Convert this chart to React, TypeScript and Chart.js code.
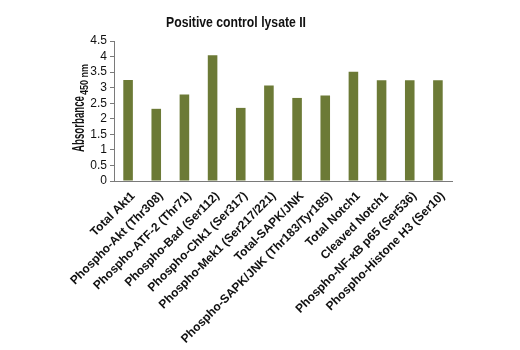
import React, { useEffect, useRef } from 'react';
import { Chart, registerables } from 'chart.js';

Chart.register(...registerables);

const chartTitle = 'Positive control lysate II';
const yTitleMain = 'Absorbance';
const yTitleSub = '450 nm';

const categories = [
  'Total Akt1',
  'Phospho-Akt (Thr308)',
  'Phospho-ATF-2 (Thr71)',
  'Phospho-Bad (Ser112)',
  'Phospho-Chk1 (Ser317)',
  'Phospho-Mek1 (Ser217/221)',
  'Total-SAPK/JNK',
  'Phospho-SAPK/JNK (Thr183/Tyr185)',
  'Total Notch1',
  'Cleaved Notch1',
  'Phospho-NF-κB p65 (Ser536)',
  'Phospho-Histone H3 (Ser10)',
];

const absorbance = [3.25, 2.32, 2.78, 4.04, 2.35, 3.07, 2.67, 2.75, 3.51, 3.24, 3.24, 3.24];

const yMin = 0;
const yMax = 4.5;
const yStep = 0.5;

const FONT = '"Liberation Sans", Arial, sans-serif';
const BAR_COLOR = '#6c7a36';
const AXIS_COLOR = '#7a7a7a';

function drawCondensed(ctx: any, text: string, x: number, y: number, font: string, targetWidth: number, align: string) {
  ctx.save();
  ctx.font = font;
  const w = ctx.measureText(text).width;
  const s = targetWidth / w;
  ctx.translate(x, y);
  ctx.scale(s, 1);
  ctx.textAlign = align;
  ctx.fillText(text, 0, 0);
  ctx.restore();
  return targetWidth;
}

const titlesPlugin = {
  id: 'customTitles',
  afterDraw(chart: any) {
    const { ctx, chartArea } = chart;
    ctx.save();
    ctx.fillStyle = '#111';
    ctx.textBaseline = 'alphabetic';
    // main title
    drawCondensed(ctx, chartTitle, 236, 26.5, `bold 15px ${FONT}`, 140, 'center');
    // y axis title with subscript (rotated)
    const cy = (chartArea.top + chartArea.bottom) / 2 - 3;
    ctx.translate(84, cy);
    ctx.rotate(-Math.PI / 2);
    const wMain = 56;
    const wSub = 31;
    const total = wMain + 1 + wSub;
    drawCondensed(ctx, yTitleMain, -total / 2, 0, `bold 16px ${FONT}`, wMain, 'left');
    drawCondensed(ctx, yTitleSub, -total / 2 + wMain + 1, 4, `bold 10px ${FONT}`, wSub, 'left');
    ctx.restore();
  },
};

export default function App() {
  const ref = useRef<HTMLCanvasElement | null>(null);

  useEffect(() => {
    if (!ref.current) return;
    const chart = new Chart(ref.current, {
      type: 'bar',
      data: {
        labels: categories,
        datasets: [
          {
            data: absorbance,
            backgroundColor: BAR_COLOR,
            borderWidth: 0,
            barPercentage: 0.34,
            categoryPercentage: 1,
          },
        ],
      },
      options: {
        responsive: false,
        animation: false,
        devicePixelRatio: 1,
        layout: { padding: { top: 41, right: 68, left: 0, bottom: 0 } },
        plugins: {
          legend: { display: false },
          title: { display: false },
          tooltip: { enabled: false },
        },
        scales: {
          x: {
            grid: { display: false, drawTicks: false },
            border: { display: true, color: AXIS_COLOR, width: 1 },
            ticks: {
              autoSkip: false,
              maxRotation: 45,
              minRotation: 45,
              padding: 8,
              labelOffset: 5,
              color: '#111',
              font: { family: FONT, size: 12, weight: 'bold' },
            },
            afterFit(scale: any) {
              scale.height = 169;
            },
          },
          y: {
            min: yMin,
            max: yMax,
            grid: {
              display: true,
              drawOnChartArea: false,
              drawTicks: true,
              tickLength: 4,
              color: AXIS_COLOR,
            },
            border: { display: true, color: AXIS_COLOR, width: 1 },
            ticks: {
              stepSize: yStep,
              autoSkip: false,
              padding: 3,
              color: '#111',
              font: { family: FONT, size: 12 },
              callback: (v: any) => String(v),
            },
            afterFit(scale: any) {
              scale.width = 114;
            },
          },
        },
      },
      plugins: [titlesPlugin],
    });
    return () => chart.destroy();
  }, []);

  return (
    <div style={{ position: 'fixed', left: 0, top: 0, width: 520, height: 350, background: '#fff' }}>
      <canvas ref={ref} width={520} height={350} style={{ display: 'block', width: 520, height: 350 }} />
    </div>
  );
}
